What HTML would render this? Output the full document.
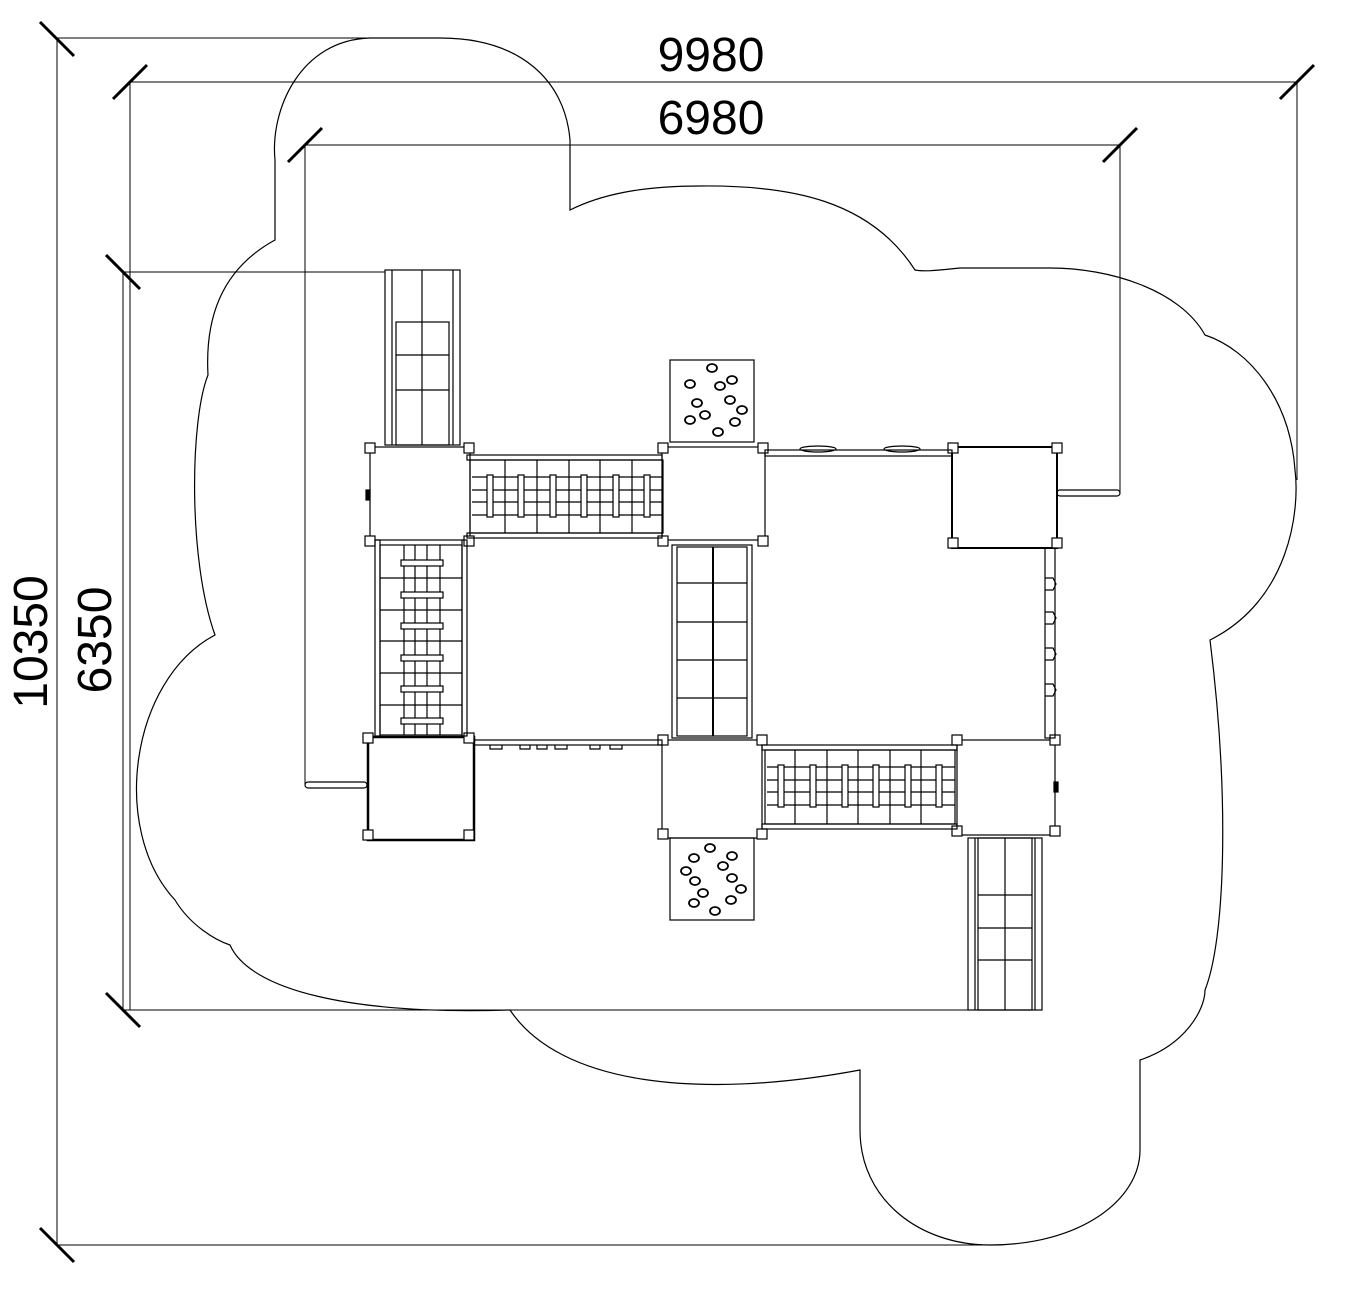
<!DOCTYPE html>
<html><head><meta charset="utf-8"><style>html,body{margin:0;padding:0;background:#fff}svg{display:block}</style></head><body>
<svg width="1372" height="1308" viewBox="0 0 1372 1308" xmlns="http://www.w3.org/2000/svg" fill="none" stroke="#000" stroke-width="1.2">
<path d="M370,38 C300,40 270,110 275,160 L275,240 C220,270 205,320 208,375 C190,420 188,560 215,635 C130,680 110,830 175,900 C190,925 215,940 230,945 C250,990 350,1015 510,1010 C560,1085 700,1100 860,1070 L860,1130 C860,1200 920,1245 990,1245 C1080,1245 1140,1200 1140,1150 L1140,1060 C1185,1045 1205,1010 1205,990 C1225,940 1230,800 1210,640 C1290,600 1300,510 1295,470 C1290,400 1250,350 1205,335 C1180,290 1110,268 1050,268 L960,268 C940,270 925,272 915,270 C870,200 790,185 700,186 C640,186 600,195 570,210 L570,140 C565,80 520,38 440,38 Z"/>
<g stroke-width="1">
<line x1="57" y1="38" x2="372" y2="38"/>
<line x1="57" y1="38" x2="57" y2="1245"/>
<line x1="57" y1="1245" x2="985" y2="1245"/>
<line x1="130" y1="82" x2="1297" y2="82"/>
<line x1="130" y1="82" x2="130" y2="1010"/>
<line x1="1297" y1="82" x2="1297" y2="480"/>
<line x1="305" y1="145" x2="1120" y2="145"/>
<line x1="305" y1="145" x2="305" y2="785"/>
<line x1="1120" y1="145" x2="1120" y2="493"/>
<line x1="123" y1="272" x2="385" y2="272"/>
<line x1="123" y1="272" x2="123" y2="1010"/>
<line x1="123" y1="1010" x2="970" y2="1010"/>
</g>
<g stroke-width="3">
<line x1="40" y1="22" x2="74" y2="56"/>
<line x1="40" y1="1228" x2="74" y2="1262"/>
<line x1="113" y1="99" x2="147" y2="65"/>
<line x1="1280" y1="99" x2="1314" y2="65"/>
<line x1="288" y1="162" x2="322" y2="128"/>
<line x1="1103" y1="162" x2="1137" y2="128"/>
<line x1="106" y1="255" x2="140" y2="289"/>
<line x1="106" y1="993" x2="140" y2="1027"/>
</g>
<g fill="#000" stroke="none" font-family="Liberation Sans, sans-serif" font-size="48">
<text x="711" y="71" text-anchor="middle">9980</text>
<text x="711" y="134" text-anchor="middle">6980</text>
<text transform="translate(47,642) rotate(-90)" text-anchor="middle">10350</text>
<text transform="translate(111,640) rotate(-90)" text-anchor="middle">6350</text>
</g>
<rect x="305" y="782" width="62" height="6" rx="3"/>
<rect x="1057" y="490" width="63" height="6" rx="3"/>
<rect x="385" y="270" width="75" height="175"/>
<line x1="392" y1="270" x2="392" y2="445"/><line x1="453" y1="270" x2="453" y2="445"/>
<line x1="422" y1="270" x2="422" y2="445"/>
<rect x="396" y="322" width="53" height="123"/>
<line x1="396" y1="355" x2="449" y2="355"/><line x1="396" y1="390" x2="449" y2="390"/>
<rect x="968" y="838" width="74" height="172"/>
<line x1="975" y1="838" x2="975" y2="1010"/><line x1="1035" y1="838" x2="1035" y2="1010"/>
<rect x="978" y="838" width="54" height="172"/>
<line x1="1005" y1="838" x2="1005" y2="1010"/>
<line x1="978" y1="895" x2="1032" y2="895"/><line x1="978" y1="928" x2="1032" y2="928"/><line x1="978" y1="960" x2="1032" y2="960"/>
<rect x="670" y="360" width="84" height="82"/>
<rect x="670" y="838" width="84" height="82"/>
<g stroke-width="1.8">
<ellipse cx="712" cy="368" rx="5" ry="4"/><ellipse cx="690" cy="384" rx="5" ry="4"/><ellipse cx="720" cy="386" rx="5" ry="4"/><ellipse cx="732" cy="380" rx="5" ry="4"/>
<ellipse cx="697" cy="403" rx="5" ry="4"/><ellipse cx="730" cy="400" rx="5" ry="4"/><ellipse cx="742" cy="410" rx="5" ry="4"/><ellipse cx="705" cy="415" rx="5" ry="4"/>
<ellipse cx="690" cy="420" rx="5" ry="4"/><ellipse cx="735" cy="422" rx="5" ry="4"/><ellipse cx="718" cy="432" rx="5" ry="4"/>
<ellipse cx="710" cy="848" rx="5" ry="4"/><ellipse cx="694" cy="858" rx="5" ry="4"/><ellipse cx="732" cy="856" rx="5" ry="4"/><ellipse cx="723" cy="866" rx="5" ry="4"/>
<ellipse cx="686" cy="871" rx="5" ry="4"/><ellipse cx="695" cy="881" rx="5" ry="4"/><ellipse cx="732" cy="878" rx="5" ry="4"/><ellipse cx="703" cy="893" rx="5" ry="4"/>
<ellipse cx="741" cy="889" rx="5" ry="4"/><ellipse cx="694" cy="903" rx="5" ry="4"/><ellipse cx="731" cy="900" rx="5" ry="4"/><ellipse cx="715" cy="911" rx="5" ry="4"/>
</g>
<rect x="370" y="447" width="100" height="93"/>
<rect x="662" y="447" width="103" height="93"/>
<rect x="952" y="447" width="105" height="101" stroke-width="2"/>
<rect x="368" y="737" width="106" height="103" stroke-width="2.5"/>
<rect x="662" y="740" width="100" height="98"/>
<rect x="957" y="740" width="98" height="95"/>
<g stroke-width="1.2" fill="#fff">
<rect x="365" y="443" width="10" height="10"/><rect x="464" y="443" width="10" height="10"/><rect x="365" y="536" width="10" height="10"/><rect x="464" y="536" width="10" height="10"/>
<rect x="658" y="443" width="10" height="10"/><rect x="758" y="443" width="10" height="10"/><rect x="658" y="536" width="10" height="10"/><rect x="758" y="536" width="10" height="10"/>
<rect x="948" y="443" width="10" height="10"/><rect x="1052" y="443" width="10" height="10"/><rect x="948" y="538" width="10" height="10"/><rect x="1052" y="538" width="10" height="10"/>
<rect x="363" y="733" width="10" height="10"/><rect x="464" y="733" width="10" height="10"/><rect x="363" y="830" width="10" height="10"/><rect x="464" y="830" width="10" height="10"/>
<rect x="658" y="735" width="10" height="10"/><rect x="757" y="735" width="10" height="10"/><rect x="658" y="829" width="10" height="10"/><rect x="757" y="829" width="10" height="10"/>
<rect x="952" y="735" width="10" height="10"/><rect x="1050" y="735" width="10" height="10"/><rect x="952" y="826" width="10" height="10"/><rect x="1050" y="826" width="10" height="10"/>
</g>
<rect x="366" y="490" width="4" height="10" fill="#000"/>
<rect x="1054" y="782" width="4" height="10" fill="#000"/>
<rect x="467" y="455" width="195" height="5"/><rect x="467" y="533" width="195" height="5"/>
<rect x="470" y="460" width="193" height="73"/>
<line x1="472" y1="477" x2="662" y2="477"/><line x1="472" y1="515" x2="662" y2="515"/>
<line x1="472" y1="490" x2="662" y2="490"/><line x1="472" y1="502" x2="662" y2="502"/>
<line x1="505" y1="460" x2="505" y2="533"/><line x1="537" y1="460" x2="537" y2="533"/><line x1="569" y1="460" x2="569" y2="533"/><line x1="600" y1="460" x2="600" y2="533"/><line x1="632" y1="460" x2="632" y2="533"/>
<g fill="#fff"><rect x="487" y="475" width="6" height="42"/><rect x="518" y="475" width="6" height="42"/><rect x="550" y="475" width="6" height="42"/><rect x="581" y="475" width="6" height="42"/><rect x="613" y="475" width="6" height="42"/><rect x="644" y="475" width="6" height="42"/></g>
<rect x="762" y="745" width="195" height="5"/><rect x="762" y="824" width="195" height="5"/>
<rect x="765" y="750" width="190" height="74"/>
<line x1="767" y1="767" x2="955" y2="767"/><line x1="767" y1="805" x2="955" y2="805"/>
<line x1="767" y1="780" x2="955" y2="780"/><line x1="767" y1="792" x2="955" y2="792"/>
<line x1="795" y1="750" x2="795" y2="824"/><line x1="827" y1="750" x2="827" y2="824"/><line x1="858" y1="750" x2="858" y2="824"/><line x1="890" y1="750" x2="890" y2="824"/><line x1="921" y1="750" x2="921" y2="824"/>
<g fill="#fff"><rect x="778" y="765" width="6" height="42"/><rect x="810" y="765" width="6" height="42"/><rect x="842" y="765" width="6" height="42"/><rect x="873" y="765" width="6" height="42"/><rect x="905" y="765" width="6" height="42"/><rect x="936" y="765" width="6" height="42"/></g>
<rect x="375" y="540" width="5" height="196"/><rect x="462" y="540" width="5" height="196"/>
<rect x="380" y="545" width="82" height="190"/>
<line x1="380" y1="578" x2="462" y2="578"/><line x1="380" y1="610" x2="462" y2="610"/><line x1="380" y1="641" x2="462" y2="641"/><line x1="380" y1="673" x2="462" y2="673"/><line x1="380" y1="705" x2="462" y2="705"/>
<line x1="404" y1="545" x2="404" y2="735"/><line x1="415" y1="545" x2="415" y2="735"/><line x1="427" y1="545" x2="427" y2="735"/><line x1="440" y1="545" x2="440" y2="735"/>
<g fill="#fff"><rect x="401" y="560" width="42" height="6"/><rect x="401" y="592" width="42" height="6"/><rect x="401" y="623" width="42" height="6"/><rect x="401" y="655" width="42" height="6"/><rect x="401" y="686" width="42" height="6"/><rect x="401" y="718" width="42" height="6"/></g>
<rect x="672" y="545" width="80" height="193"/>
<rect x="677" y="547" width="70" height="189"/>
<line x1="677" y1="583" x2="747" y2="583"/><line x1="677" y1="622" x2="747" y2="622"/><line x1="677" y1="660" x2="747" y2="660"/><line x1="677" y1="698" x2="747" y2="698"/>
<line x1="713" y1="547" x2="713" y2="736" stroke-width="2"/>
<rect x="765" y="450" width="187" height="6"/>
<ellipse cx="818" cy="449" rx="18" ry="3"/><ellipse cx="902" cy="449" rx="18" ry="3"/>
<rect x="1045" y="548" width="10" height="190"/>
<path d="M1045,578 l8,0 l3,6 l-3,6 l-8,0 M1045,612 l8,0 l3,6 l-3,6 l-8,0 M1045,648 l8,0 l3,6 l-3,6 l-8,0 M1045,684 l8,0 l3,6 l-3,6 l-8,0"/>
<rect x="474" y="740" width="188" height="5"/>
<path d="M490,745 v4 h12 v-4 M520,745 v4 h10 v-4 M537,745 v4 h10 v-4 M555,745 v4 h12 v-4 M590,745 v4 h10 v-4 M610,745 v4 h12 v-4"/>
</svg>
</body></html>
